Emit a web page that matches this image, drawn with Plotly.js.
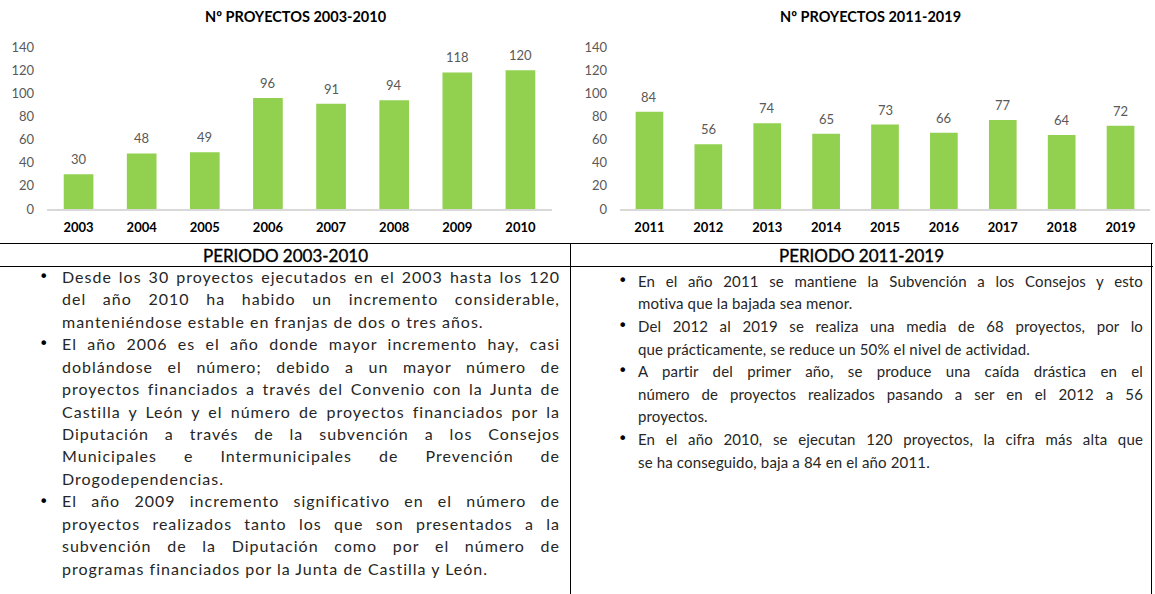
<!DOCTYPE html>
<html>
<head>
<meta charset="utf-8">
<script src="https://cdn.plot.ly/plotly-3.0.1.min.js"></script>
<style>
  html, body { margin:0; padding:0; background:#fff; width:1155px; height:594px; overflow:hidden; }
  #chart { position:absolute; left:0; top:0; width:1155px; height:240px; }
  .hl { position:absolute; height:0; border-top:1.5px solid #000; }
  .vl { position:absolute; width:0; border-left:1.5px solid #000; }
  .hdr { position:absolute; font-family:Lato, "Open Sans", sans-serif; font-size:17px; color:#000; text-align:center; font-weight:normal; -webkit-text-stroke:0.35px #000; }
  .ln { position:absolute; font-family:Lato, "Open Sans", sans-serif; color:#262626; white-space:nowrap; }
  .ln.j { text-align:justify; text-align-last:justify; white-space:normal; }
  .bul { position:absolute; font-family:"DejaVu Sans", sans-serif; font-size:16px; color:#000; }
</style>
</head>
<body>
<div id="chart"></div>
<div id="table"></div>
<script>
// ---- data ----
const years1 = ['2003','2004','2005','2006','2007','2008','2009','2010'];
const proj1  = [30, 48, 49, 96, 91, 94, 118, 120];
const years2 = ['2011','2012','2013','2014','2015','2016','2017','2018','2019'];
const proj2  = [84, 56, 74, 65, 73, 66, 77, 64, 72];
const yTicks = [0, 20, 40, 60, 80, 100, 120, 140];
const title1 = 'Nº PROYECTOS 2003-2010';
const title2 = 'Nº PROYECTOS 2011-2019';
const header1 = 'PERIODO 2003-2010';
const header2 = 'PERIODO 2011-2019';
const text1 = [
  ["Desde los 30 proyectos ejecutados en el 2003 hasta los 120",
   "del año 2010 ha habido un incremento considerable,",
   "manteniéndose estable en franjas de dos o tres años."],
  ["El año 2006 es el año donde mayor incremento hay, casi",
   "doblándose el número; debido a un mayor número de",
   "proyectos financiados a través del Convenio con la Junta de",
   "Castilla y León y el número de proyectos financiados por la",
   "Diputación a través de la subvención a los Consejos",
   "Municipales e Intermunicipales de Prevención de",
   "Drogodependencias."],
  ["El año 2009 incremento significativo en el número de",
   "proyectos realizados tanto los que son presentados a la",
   "subvención de la Diputación como por el número de",
   "programas financiados por la Junta de Castilla y León."]
];
const text2 = [
  ["En el año 2011 se mantiene la Subvención a los Consejos y esto",
   "motiva que la bajada sea menor."],
  ["Del 2012 al 2019 se realiza una media de 68 proyectos, por lo",
   "que prácticamente, se reduce un 50% el nivel de actividad."],
  ["A partir del primer año, se produce una caída drástica en el",
   "número de proyectos realizados pasando a ser en el 2012 a 56",
   "proyectos."],
  ["En el año 2010, se ejecutan 120 proyectos, la cifra más alta que",
   "se ha conseguido, baja a 84 en el año 2011."]
];

// ---- chart ----
const W = 1155, H = 240;
const green = '#92D050';
const fontFam = 'Lato, "Open Sans", sans-serif';

const traces = [
  {type:'bar', x:years1, y:proj1, xaxis:'x', yaxis:'y', marker:{color:green}, hoverinfo:'none'},
  {type:'bar', x:years2, y:proj2, xaxis:'x2', yaxis:'y2', marker:{color:green}, hoverinfo:'none'}
];

function labels(xs, ys, xref, yref) {
  return xs.map((c, i) => ({
    x:i, y:ys[i], xref:xref, yref:yref, text:String(ys[i]), showarrow:false,
    yanchor:'bottom', yshift:5, font:{family:fontFam, size:13, color:'#595959'}
  }));
}

const yBottom = 1 - 209/H, yTop = 1 - 47/H;
const yax = {
  range:[0,140], autorange:false, tickvals:yTicks, showgrid:false, zeroline:false, showline:false,
  tickfont:{family:fontFam, size:13, color:'#595959'}, ticks:'', ticklabelstandoff:12,
  domain:[yBottom, yTop], fixedrange:true
};
const xax = {
  type:'category', autorange:false, showgrid:false, zeroline:false, showline:true, linecolor:'#d9d9d9', linewidth:1.5,
  tickfont:{family:fontFam, size:13, color:'#000', weight:'bold'}, ticks:'', ticklabelstandoff:6,
  fixedrange:true
};

const layout = {
  width:W, height:H, margin:{l:0,r:0,t:0,b:0}, showlegend:false,
  paper_bgcolor:'#fff', plot_bgcolor:'#fff',
  bargap:0.53,
  xaxis: Object.assign({}, xax, {domain:[47/W, 552/W], anchor:'y', range:[-0.5, years1.length-0.5]}),
  yaxis: Object.assign({}, yax, {anchor:'x'}),
  xaxis2: Object.assign({}, xax, {domain:[620/W, 1150/W], anchor:'y2', range:[-0.5, years2.length-0.5]}),
  yaxis2: Object.assign({}, yax, {anchor:'x2'}),
  annotations: [
    {text:title1, x:296/W, y:1-17/H, xref:'paper', yref:'paper', showarrow:false, xanchor:'center', yanchor:'middle',
     font:{family:fontFam, size:14.5, color:'#000', weight:'bold'}},
    {text:title2, x:870/W, y:1-17/H, xref:'paper', yref:'paper', showarrow:false, xanchor:'center', yanchor:'middle',
     font:{family:fontFam, size:14.5, color:'#000', weight:'bold'}}
  ].concat(labels(years1, proj1, 'x', 'y'), labels(years2, proj2, 'x2', 'y2'))
};
Plotly.newPlot('chart', traces, layout, {staticPlot:true, displayModeBar:false});

// ---- table ----
const T = document.getElementById('table');
function el(cls, style, txt) {
  const d = document.createElement('div'); d.className = cls;
  Object.assign(d.style, style); if (txt !== undefined) d.textContent = txt;
  T.appendChild(d); return d;
}
el('hl', {left:'0px', top:'243px', width:'1153px'});
el('hl', {left:'0px', top:'266px', width:'1153px'});
el('vl', {left:'570px', top:'243px', height:'351px'});
el('vl', {left:'1151px', top:'243px', height:'351px'});
el('hdr', {left:'0px', width:'571px', top:'245px', lineHeight:'21px'}, header1);
el('hdr', {left:'571px', width:'581px', top:'245px', lineHeight:'21px'}, header2);

function column(paras, textLeft, textRight, bulletX, firstY, LH, fs, ls) {
  let y = firstY - LH/2;
  paras.forEach(p => {
    p.forEach((line, i) => {
      if (i === 0) el('bul', {left:(bulletX-5)+'px', top:(y + LH/2 - 11)+'px', lineHeight:'22px'}, '•');
      const last = i === p.length - 1;
      el('ln' + (last ? '' : ' j'), {left:textLeft+'px', width:(textRight-textLeft)+'px', top:y+'px',
        height:LH+'px', lineHeight:LH+'px', fontSize:fs+'px', letterSpacing:ls+'px'}, line);
      y += LH;
    });
  });
}
column(text1, 62, 560, 44, 277, 22.46, 16, 1);
column(text2, 638, 1143, 623, 281, 22.6, 15, 0.15);
</script>
</body>
</html>
